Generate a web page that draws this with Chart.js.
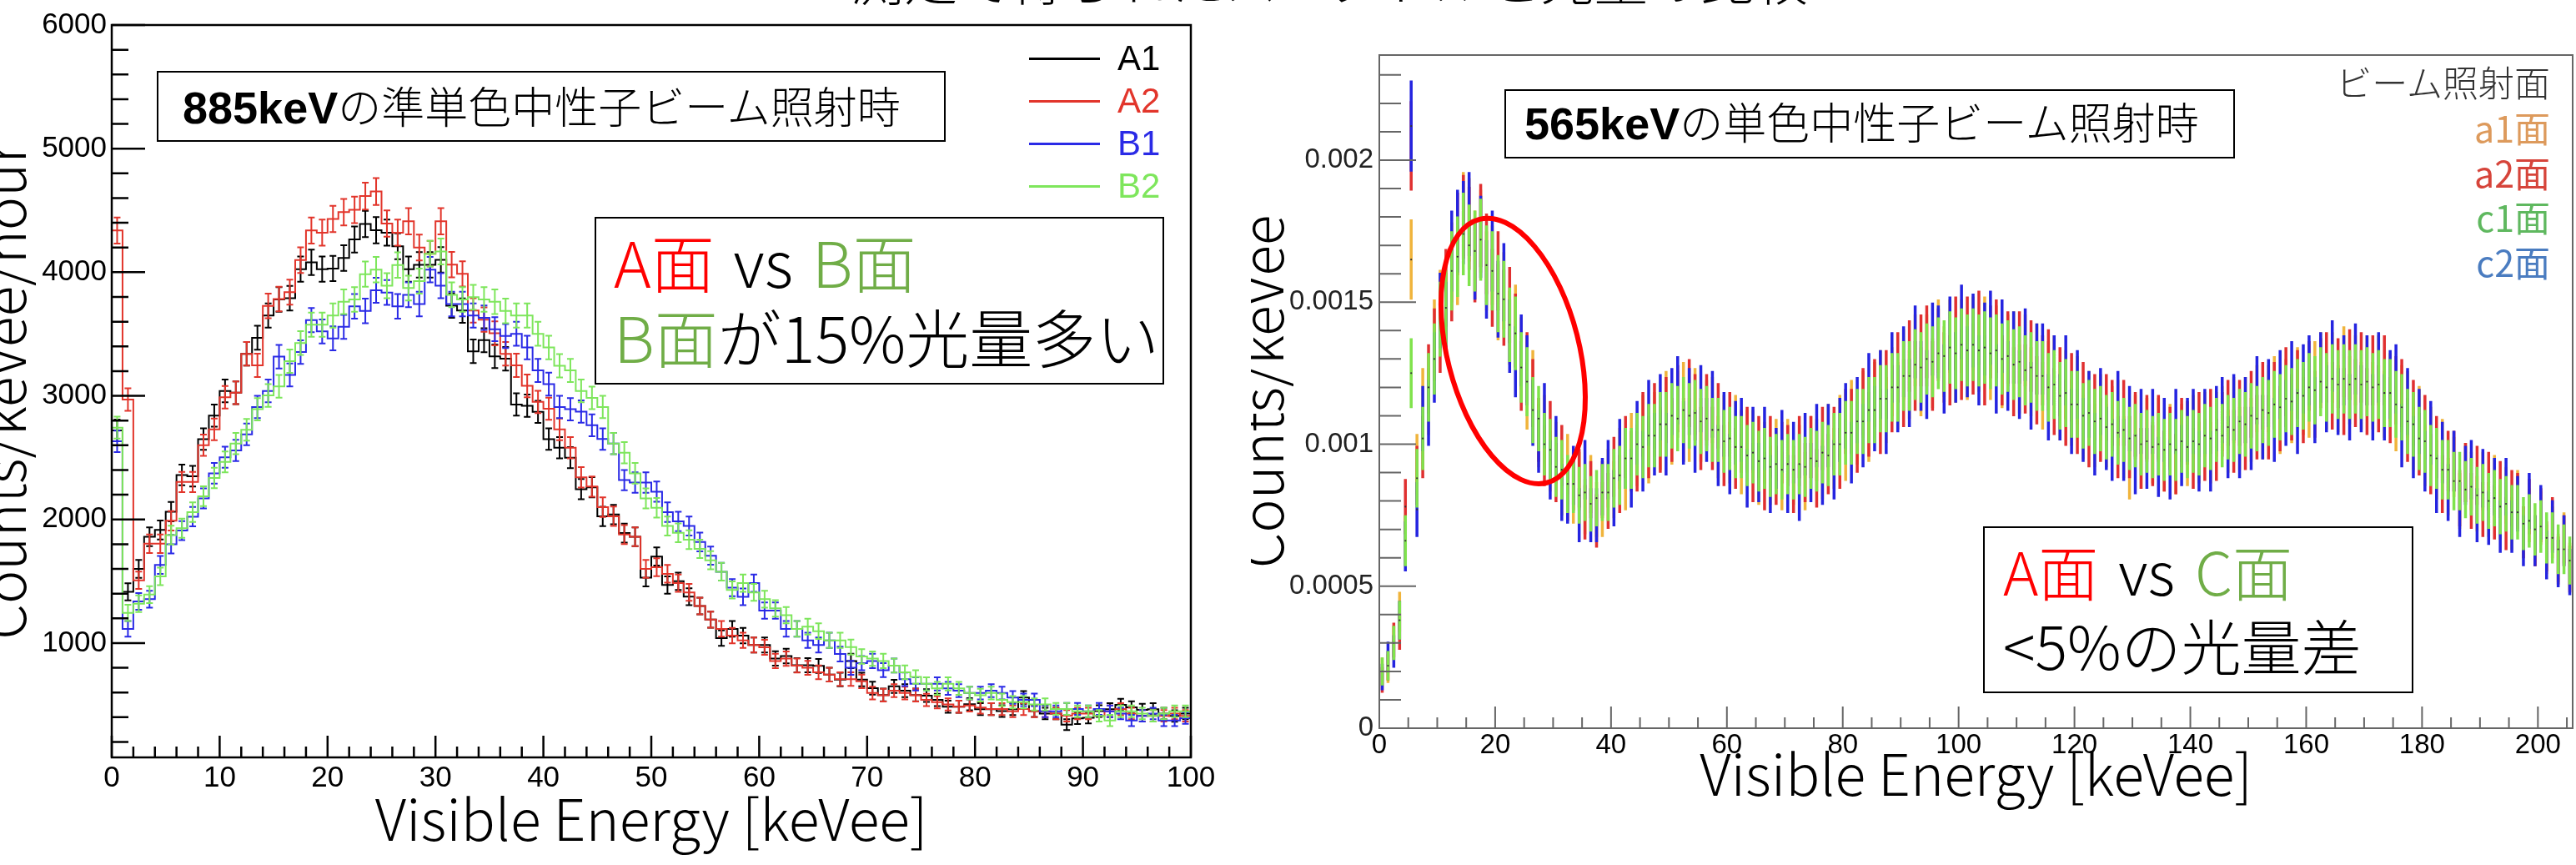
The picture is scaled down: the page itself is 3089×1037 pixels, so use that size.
<!DOCTYPE html>
<html lang="ja">
<head>
<meta charset="utf-8">
<title>光量比較</title>
<script src="https://cdn.jsdelivr.net/npm/chart.js@4.4.1/dist/chart.umd.min.js"></script>
<style>
  html, body { margin: 0; padding: 0; background: #fff; }
  body { position: relative; width: 3089px; height: 1037px; overflow: hidden;
         font-family: "Noto Sans CJK JP", "Noto Sans", sans-serif; }
  canvas { position: absolute; top: 0; }
  #leftChart { left: 0; }
  #rightChart { left: 1500px; }
  .txt { position: absolute; white-space: nowrap; line-height: 1; transform: translateY(-50%); }
  .jp { font-family: "Noto Sans CJK JP", sans-serif; font-weight: 300; }
  .num { font-family: "Liberation Sans", Arial, sans-serif; }
  .bold { font-family: "Liberation Sans", Arial, sans-serif; font-weight: 700; }
  .box { position: absolute; box-sizing: border-box; border: 2.5px solid #000; background: #fff; }
  .legLine { position: absolute; height: 3px; }
  #title { position: absolute; left: 1594px; top: -60px; transform: translateX(-50%);
           font-size: 64px; line-height: 1; white-space: nowrap; color: #000; }
</style>
</head>
<body>
<div id="title" class="jp">測定で得られたスペクトルと光量の比較</div>

<canvas id="leftChart" width="1500" height="1037"></canvas>
<canvas id="rightChart" width="1589" height="1037"></canvas>

<!-- left panel notes -->
<div class="box" style="left:188px;top:85px;width:946px;height:85px;">
  <div class="txt" style="left:29px;top:41px;"><span class="bold" style="font-size:54px;">885keV</span><span class="jp" style="font-size:52px;">の準単色中性子ビーム照射時</span></div>
</div>
<div class="box" style="left:713px;top:260px;width:683px;height:201px;">
  <div class="txt jp" style="left:21px;top:50px;font-size:76px;word-spacing:6px;"><span style="color:#ff0000">A面</span> vs <span style="color:#70ad47">B面</span></div>
  <div class="txt jp" style="left:21px;top:140px;font-size:76px;"><span style="color:#70ad47">B面</span>が15%光量多い</div>
</div>

<!-- right panel notes -->
<div class="box" style="left:1804px;top:107px;width:876px;height:83px;">
  <div class="txt" style="left:22px;top:38px;"><span class="bold" style="font-size:54px;">565keV</span><span class="jp" style="font-size:52px;">の単色中性子ビーム照射時</span></div>
</div>
<div class="box" style="left:2378px;top:631px;width:516px;height:200px;">
  <div class="txt jp" style="left:22px;top:50px;font-size:72px;word-spacing:8px;"><span style="color:#ff0000">A面</span> vs <span style="color:#70ad47">C面</span></div>
  <div class="txt jp" style="left:22px;top:139px;font-size:72px;">&lt;5%の光量差</div>
</div>
<div class="txt jp" style="right:31px;top:97px;font-size:43px;color:#333;">ビーム照射面</div>

<script>
// ---------- left panel: 885keV, 1 keVee bins, counts/keVee/hour ----------
const leftBinWidth = 1;
const leftXTicks = [0, 10, 20, 30, 40, 50, 60, 70, 80, 90, 100];
const leftYTicks = [1000, 2000, 3000, 4000, 5000, 6000];

const leftA1 = [
  2720, 1415, 1600, 1860, 1915, 2063, 2360, 2350, 2650, 2840,
  3040, 3025, 3340, 3470, 3650, 3780, 3790, 4025, 4080, 4025,
  4030, 4115, 4265, 4390, 4340, 4320, 4210, 4025, 4060, 4060,
  4100, 3730, 3690, 3360, 3450, 3320, 3300, 2930, 2920, 2870,
  2650, 2580, 2500, 2245, 2260, 2025, 2040, 1890, 1860, 1530,
  1700, 1470, 1500, 1375, 1300, 1190, 1040, 1115, 1060, 985,
  985, 875, 895, 820, 820, 815, 745, 705, 855, 705,
  635, 580, 650, 615, 580, 575, 540, 485, 485, 505,
  465, 465, 450, 465, 560, 450, 430, 430, 340, 390,
  395, 450, 465, 500, 480, 460, 465, 430, 410, 430
];
const leftA2 = [
  4338, 2970, 1508, 1804, 1804, 1989, 2303, 2303, 2600, 2729,
  2988, 3025, 3340, 3247, 3728, 3783, 3839, 4098, 4338, 4320,
  4431, 4486, 4505, 4616, 4653, 4394, 4320, 4412, 4200, 4150,
  4412, 4061, 3987, 3691, 3617, 3506, 3340, 3247, 3081, 2951,
  2896, 2729, 2581, 2341, 2266, 2100, 2026, 1878, 1860, 1600,
  1614, 1560, 1485, 1410, 1300, 1190, 1115, 1060, 1022, 985,
  966, 855, 874, 818, 800, 763, 745, 708, 708, 690,
  596, 578, 615, 596, 578, 540, 522, 503, 485, 495,
  478, 466, 466, 448, 466, 448, 448, 430, 412, 430,
  430, 411, 448, 466, 430, 411, 411, 411, 430, 411
];
const leftB1 = [
  2632, 1115, 1337, 1355, 1633, 1800, 1910, 2022, 2170, 2373,
  2503, 2558, 2688, 2910, 3040, 3317, 3169, 3354, 3613, 3521,
  3465, 3558, 3724, 3687, 3854, 3836, 3724, 3817, 3743, 4021,
  3891, 3743, 3743, 3650, 3632, 3539, 3484, 3502, 3391, 3206,
  3095, 2910, 2892, 2873, 2762, 2651, 2614, 2318, 2299, 2299,
  2225, 2059, 1984, 1947, 1818, 1707, 1577, 1448, 1374, 1485,
  1263, 1263, 1115, 1115, 1022, 985, 1022, 911, 800, 837,
  855, 781, 818, 707, 670, 670, 670, 633, 615, 596,
  596, 615, 596, 560, 541, 541, 448, 448, 467, 467,
  448, 467, 448, 430, 374, 411, 430, 374, 374, 393
];
const leftB2 = [
  2743, 1244, 1318, 1392, 1540, 1873, 1929, 2059, 2188, 2336,
  2466, 2614, 2725, 2892, 3003, 3077, 3280, 3428, 3576, 3576,
  3650, 3761, 3780, 3984, 4021, 3891, 4058, 3872, 3928, 4150,
  4168, 3817, 3780, 3798, 3780, 3761, 3687, 3650, 3650, 3502,
  3391, 3243, 3206, 3040, 2984, 2910, 2614, 2540, 2373, 2170,
  2095, 1947, 1892, 1836, 1762, 1670, 1577, 1430, 1485, 1410,
  1355, 1281, 1226, 1115, 1133, 1096, 1022, 1022, 967, 892,
  874, 855, 818, 763, 726, 670, 633, 670, 633, 596,
  578, 596, 541, 522, 522, 504, 504, 467, 467, 448,
  448, 411, 374, 448, 448, 430, 411, 430, 448, 448
];

const leftSeries = [
  { name: 'A1', values: leftA1, color: '#000000', order: 3 },
  { name: 'A2', values: leftA2, color: '#e2352b', order: 2 },
  { name: 'B1', values: leftB1, color: '#2a2ae6', order: 1 },
  { name: 'B2', values: leftB2, color: '#7ee65c', order: 0 }
];

// ---------- right panel: 565keV, 1 keVee bins, values in 1e-5 counts/keVee ----------
const rightUnit = 1e-5;
const rightBinWidth = 1;
const rightXTicks = [0, 20, 40, 60, 80, 100, 120, 140, 160, 180, 200];
const rightYTicks = [0, 0.0005, 0.001, 0.0015, 0.002];
const rightYLabels = ['0', '0.0005', '0.001', '0.0015', '0.002'];

const rightA1 = [
  20, 21, 30, 41, 66, 165, 93, 115, 115, 138,
  148, 147, 164, 163, 181, 179, 168, 175, 161, 163,
  150, 154, 141, 143, 132, 117, 121, 103, 106, 94,
  97, 85, 93, 82, 87, 78, 86, 77, 77, 88,
  84, 95, 87, 100, 96, 106, 97, 107, 102, 114,
  104, 114, 117, 105, 115, 105, 111, 112, 99, 106,
  97, 106, 93, 101, 101, 89, 97, 89, 98, 87,
  98, 89, 96, 87, 99, 98, 91, 103, 95, 106,
  98, 111, 104, 114, 105, 117, 121, 112, 122, 117,
  128, 121, 133, 122, 133, 125, 138, 129, 138, 127,
  138, 128, 139, 131, 139, 128, 136, 125, 133, 134,
  123, 133, 122, 130, 117, 124, 126, 113, 121, 111,
  119, 106, 114, 103, 113, 103, 109, 111, 99, 91,
  106, 95, 105, 97, 105, 94, 103, 93, 103, 96,
  106, 97, 107, 97, 107, 109, 101, 112, 102, 112,
  105, 116, 106, 116, 119, 108, 118, 112, 122, 115,
  114, 124, 127, 117, 127, 116, 129, 119, 126, 117,
  126, 117, 126, 114, 120, 109, 116, 114, 102, 109,
  96, 102, 91, 98, 85, 92, 80, 90, 87, 79,
  87, 77, 86, 76, 82, 72, 81, 69, 75, 66,
  74, 63, 69, 60, 67, 57
];
const rightA2 = [
  17, 22, 31, 34, 78, 205, 89, 99, 123, 135,
  138, 155, 157, 174, 180, 176, 164, 177, 167, 155,
  161, 148, 149, 140, 124, 127, 118, 105, 96, 104,
  90, 96, 83, 87, 88, 76, 84, 73, 84, 80,
  92, 86, 99, 94, 94, 107, 99, 110, 101, 112,
  105, 116, 105, 118, 113, 102, 113, 102, 110, 96,
  107, 95, 101, 102, 90, 99, 87, 99, 89, 97,
  96, 86, 99, 90, 99, 88, 102, 93, 102, 95,
  108, 108, 101, 115, 107, 118, 108, 121, 116, 127,
  118, 131, 124, 133, 136, 124, 135, 127, 126, 139,
  128, 139, 130, 141, 126, 136, 138, 126, 134, 122,
  134, 123, 131, 119, 126, 128, 115, 122, 111, 120,
  108, 117, 103, 113, 105, 113, 111, 99, 111, 99,
  107, 95, 106, 96, 106, 94, 102, 93, 105, 104,
  95, 107, 98, 108, 98, 107, 111, 101, 111, 102,
  114, 106, 117, 106, 117, 109, 122, 113, 121, 112,
  124, 114, 125, 127, 117, 125, 115, 128, 118, 127,
  115, 126, 116, 126, 112, 119, 118, 105, 111, 100,
  106, 93, 99, 86, 94, 94, 81, 90, 80, 89,
  77, 87, 76, 84, 72, 81, 80, 69, 78, 66,
  75, 64, 72, 59, 66, 56
];
const rightC1 = [
  20, 22, 30, 38, 66, 125, 88, 102, 120, 130,
  144, 148, 161, 166, 174, 170, 168, 172, 163, 161,
  153, 151, 142, 139, 127, 122, 112, 109, 100, 98,
  92, 91, 86, 86, 82, 83, 79, 81, 83, 83,
  88, 89, 95, 95, 100, 99, 103, 103, 107, 107,
  110, 109, 112, 110, 111, 108, 109, 105, 105, 101,
  102, 99, 99, 96, 97, 94, 95, 92, 93, 91,
  93, 91, 93, 92, 95, 94, 97, 96, 100, 100,
  104, 104, 108, 108, 112, 112, 116, 116, 120, 120,
  124, 124, 128, 127, 130, 129, 132, 131, 134, 132,
  135, 133, 135, 133, 134, 132, 133, 130, 131, 128,
  129, 126, 127, 124, 124, 120, 121, 117, 118, 114,
  114, 110, 111, 108, 109, 106, 107, 104, 105, 102,
  103, 100, 101, 99, 100, 98, 100, 98, 101, 99,
  101, 100, 103, 102, 105, 103, 106, 105, 108, 107,
  110, 109, 112, 111, 114, 113, 116, 115, 118, 117,
  120, 119, 122, 120, 123, 121, 123, 121, 123, 121,
  122, 120, 121, 118, 118, 114, 113, 108, 107, 102,
  101, 96, 95, 91, 91, 87, 87, 84, 85, 82,
  83, 80, 81, 78, 79, 76, 76, 72, 73, 70,
  71, 67, 67, 63, 63, 59
];
const rightC2 = [
  18, 25, 27, 38, 64, 212, 77, 109, 111, 127,
  147, 144, 168, 175, 178, 181, 165, 173, 158, 168,
  151, 157, 138, 129, 133, 126, 111, 101, 110, 91,
  99, 83, 82, 89, 75, 91, 75, 75, 85, 91,
  81, 98, 95, 88, 104, 94, 111, 100, 113, 100,
  115, 119, 104, 115, 101, 116, 105, 114, 96, 107,
  93, 104, 105, 88, 102, 90, 102, 86, 95, 101,
  86, 97, 83, 100, 90, 103, 89, 103, 91, 105,
  110, 97, 112, 103, 120, 109, 121, 108, 127, 116,
  129, 118, 136, 124, 121, 137, 136, 123, 139, 127,
  143, 129, 140, 126, 137, 141, 123, 138, 124, 134,
  121, 135, 117, 130, 130, 113, 126, 113, 126, 108,
  121, 105, 114, 100, 115, 102, 98, 114, 98, 109,
  93, 108, 95, 108, 92, 105, 91, 108, 96, 105,
  108, 94, 108, 94, 109, 112, 99, 113, 99, 112,
  102, 119, 106, 118, 105, 121, 111, 124, 108, 123,
  126, 112, 127, 116, 131, 115, 126, 113, 130, 116,
  126, 113, 127, 113, 121, 123, 103, 115, 99, 108,
  94, 104, 86, 97, 83, 94, 77, 89, 91, 75,
  88, 74, 85, 71, 85, 71, 79, 66, 80, 66,
  76, 61, 71, 58, 66, 55
];

const rightSeries = [
  { name: 'a1面', values: rightA1, color: '#f0b43c', label: '#dd9a5c', order: 3 },
  { name: 'a2面', values: rightA2, color: '#e03030', label: '#d6443a', order: 2 },
  { name: 'c1面', values: rightC1, color: '#80e34c', label: '#5fb85f', order: 0 },
  { name: 'c2面', values: rightC2, color: '#2424e0', label: '#4a7cc0', order: 1 }
];

// red ring drawn around the first peak (centre in data units, radii in px)
const ringCentre = { x: 23.1, y: 0.001328 };

const TICK_FONT = "'Liberation Sans', Arial, Helvetica, sans-serif";
const TITLE_FONT = "'Noto Sans CJK JP', 'Noto Sans', sans-serif";
const LEFT_ERR_A = 20, LEFT_ERR_B = 1.3;   // statistical error of the hourly rate
const RIGHT_ERR_B = 1.1;                    // in 1e-5 units

// ---------- plugins ----------
const errorBars = {
  id: 'errorBars',
  beforeDatasetDraw(chart, args) {
    const ds = chart.data.datasets[args.index];
    if (!ds.errors) return;
    const { ctx, chartArea: a, scales: { x, y } } = chart;
    ctx.save();
    ctx.beginPath();
    ctx.rect(a.left, a.top, a.right - a.left, a.bottom - a.top);
    ctx.clip();
    ctx.strokeStyle = ds.borderColor;
    ctx.lineWidth = ds.errorWidth;
    ctx.beginPath();
    ds.errors.forEach(p => {
      const px = x.getPixelForValue(p.x);
      const lo = y.getPixelForValue(p.y - p.e);
      const hi = y.getPixelForValue(p.y + p.e);
      ctx.moveTo(px, lo);
      ctx.lineTo(px, hi);
      if (ds.capHalf) {
        ctx.moveTo(px - ds.capHalf, lo); ctx.lineTo(px + ds.capHalf, lo);
        ctx.moveTo(px - ds.capHalf, hi); ctx.lineTo(px + ds.capHalf, hi);
      }
    });
    ctx.stroke();
    ctx.restore();
  }
};

// ROOT style frame with inward ticks
const rootAxes = {
  id: 'rootAxes',
  afterDraw(chart, args, o) {
    const { ctx, chartArea: a, scales: { x, y } } = chart;
    ctx.save();
    ctx.strokeStyle = o.color;
    ctx.lineWidth = o.lineWidth;
    ctx.beginPath();
    const xr = Math.round(o.xMajor / o.xMinor);
    for (let i = Math.ceil(x.min / o.xMinor - 1e-9); i * o.xMinor <= x.max + 1e-9; i++) {
      const px = x.getPixelForValue(i * o.xMinor);
      const len = i % xr === 0 ? o.xMajorLen : o.xMinorLen;
      ctx.moveTo(px, a.bottom);
      ctx.lineTo(px, a.bottom - len);
    }
    const yr = Math.round(o.yMajor / o.yMinor);
    for (let i = Math.ceil(y.min / o.yMinor - 1e-9); i * o.yMinor <= y.max * (1 + 1e-9); i++) {
      const py = y.getPixelForValue(i * o.yMinor);
      const len = i % yr === 0 ? o.yMajorLen : o.yMinorLen;
      ctx.moveTo(a.left, py);
      ctx.lineTo(a.left + len, py);
    }
    ctx.stroke();
    ctx.strokeRect(a.left, a.top, a.right - a.left, a.bottom - a.top);
    ctx.restore();
  }
};

const ring = {
  id: 'ring',
  afterDatasetsDraw(chart, args, o) {
    if (!o.centre) return;
    const { ctx, scales: { x, y } } = chart;
    ctx.save();
    ctx.strokeStyle = '#ff0000';
    ctx.lineWidth = 6;
    ctx.beginPath();
    ctx.ellipse(x.getPixelForValue(o.centre.x), y.getPixelForValue(o.centre.y), 79, 163, -0.25, 0, Math.PI * 2);
    ctx.stroke();
    ctx.restore();
  }
};

// ---------- datasets ----------
const leftEdges = Array.from({ length: leftA1.length + 1 }, (_, i) => i * leftBinWidth);

function leftDataset(s) {
  const pts = s.values.map((v, i) => ({ x: leftEdges[i], y: v }));
  pts.push({ x: leftEdges[s.values.length], y: s.values[s.values.length - 1] });
  return {
    label: s.name,
    data: pts,
    stepped: 'before',
    borderColor: s.color,
    borderWidth: 2,
    pointRadius: 0,
    fill: false,
    order: s.order,
    errorWidth: 2,
    capHalf: 4,
    errors: s.values.map((v, i) => ({
      x: leftEdges[i] + leftBinWidth / 2, y: v, e: LEFT_ERR_A + LEFT_ERR_B * Math.sqrt(v)
    }))
  };
}

function rightDataset(s) {
  return {
    label: s.name,
    data: s.values.map((v, i) => ({ x: (i + 0.5) * rightBinWidth, y: v * rightUnit })),
    showLine: false,
    borderColor: s.color,
    pointRadius: 1.1,
    pointBorderWidth: 0,
    pointBackgroundColor: '#333',
    order: s.order,
    errorWidth: 3.5,
    capHalf: 0,
    errors: s.values.map((v, i) => ({
      x: (i + 0.5) * rightBinWidth, y: v * rightUnit, e: RIGHT_ERR_B * Math.sqrt(v) * rightUnit
    }))
  };
}

function axisTitle(text, padding) {
  return { display: true, text, color: '#000', padding,
           font: { family: TITLE_FONT, size: 68, weight: 300, lineHeight: 1 } };
}

function scaleX(min, max, ticks, height, fontSize, pad, titlePad) {
  return {
    type: 'linear', min, max,
    grid: { display: false, drawTicks: false }, border: { display: false },
    afterBuildTicks: s => { s.ticks = ticks.map(v => ({ value: v })); },
    afterFit: s => { s.height = height; },
    ticks: { autoSkip: false, maxRotation: 0, padding: pad, color: '#000',
             font: { family: TICK_FONT, size: fontSize }, callback: v => String(v) },
    title: axisTitle('Visible Energy [keVee]', { top: 0, bottom: titlePad })
  };
}

// ---------- left chart ----------
new Chart(document.getElementById('leftChart'), {
  type: 'line',
  data: { datasets: leftSeries.map(leftDataset) },
  options: {
    responsive: false, animation: false, events: [],
    layout: { padding: { left: 0, top: 30, right: 72, bottom: 0 } },
    plugins: {
      legend: { display: false }, tooltip: { enabled: false },
      rootAxes: { color: '#000', lineWidth: 2.5, xMinor: 2, xMajor: 10, yMinor: 200, yMajor: 1000,
                  xMajorLen: 26, xMinorLen: 13, yMajorLen: 40, yMinorLen: 20 }
    },
    scales: {
      x: scaleX(0, 100, leftXTicks, 129, 35, 4, 21),
      y: {
        type: 'linear', min: 75, max: 6000,
        grid: { display: false, drawTicks: false }, border: { display: false },
        afterBuildTicks: s => { s.ticks = leftYTicks.map(v => ({ value: v })); },
        afterFit: s => { s.width = 134; },
        ticks: { padding: 6, color: '#000', font: { family: TICK_FONT, size: 35 }, callback: v => String(v) },
        title: axisTitle('Counts/keVee/hour', { top: -29, bottom: 0 })
      }
    }
  },
  plugins: [errorBars, rootAxes]
});

// ---------- right chart ----------
new Chart(document.getElementById('rightChart'), {
  type: 'line',
  data: { datasets: rightSeries.map(rightDataset) },
  options: {
    responsive: false, animation: false, events: [],
    layout: { padding: { left: 0, top: 66, right: 2, bottom: 0 } },
    plugins: {
      legend: { display: false }, tooltip: { enabled: false },
      rootAxes: { color: '#666', lineWidth: 2, xMinor: 5, xMajor: 20, yMinor: 0.0001, yMajor: 0.0005,
                  xMajorLen: 26, xMinorLen: 13, yMajorLen: 44, yMinorLen: 26 },
      ring: { centre: ringCentre }
    },
    scales: {
      x: scaleX(0, 206, rightXTicks, 164, 33, 1, 75),
      y: {
        type: 'linear', min: 0, max: 0.00237,
        grid: { display: false, drawTicks: false }, border: { display: false },
        afterBuildTicks: s => { s.ticks = rightYTicks.map(v => ({ value: v })); },
        afterFit: s => { s.width = 154; },
        ticks: { padding: 7, color: '#222', font: { family: TICK_FONT, size: 33 },
                 callback: (v, i) => rightYLabels[i] },
        title: axisTitle('Counts/keVee', { top: -21, bottom: 0 })
      }
    }
  },
  plugins: [errorBars, rootAxes, ring]
});

// ---------- legends ----------
leftSeries.forEach((s, i) => {
  const y = 70 + i * 51;
  const line = document.createElement('div');
  line.className = 'legLine';
  line.style.cssText = `left:1234px;top:${y - 1.5}px;width:85px;background:${s.color}`;
  document.body.appendChild(line);
  const t = document.createElement('div');
  t.className = 'txt num';
  t.style.cssText = `left:1340px;top:${y}px;font-size:42px;color:${s.color}`;
  t.textContent = s.name;
  document.body.appendChild(t);
});
rightSeries.forEach((s, i) => {
  const t = document.createElement('div');
  t.className = 'txt jp';
  t.style.cssText = `right:31px;top:${152 + i * 53.5}px;font-size:43px;color:${s.label};font-weight:400`;
  t.textContent = s.name;
  document.body.appendChild(t);
});
</script>
</body>
</html>
